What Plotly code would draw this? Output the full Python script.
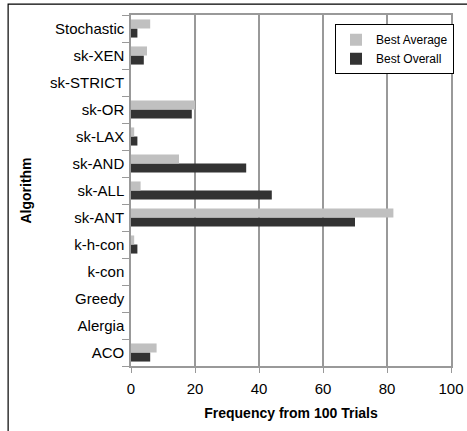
import plotly.graph_objects as go

categories = ["ACO", "Alergia", "Greedy", "k-con", "k-h-con", "sk-ANT", "sk-ALL",
              "sk-AND", "sk-LAX", "sk-OR", "sk-STRICT", "sk-XEN", "Stochastic"]
best_average = [8, 0, 0, 0, 1, 82, 3, 15, 1, 20, 0, 5, 6]
best_overall = [6, 0, 0, 0, 2, 70, 44, 36, 2, 19, 0, 4, 2]
x_ticks = [0, 20, 40, 60, 80, 100]

font = "Liberation Sans"

fig = go.Figure()
fig.add_trace(go.Bar(y=categories, x=best_overall, orientation="h", name="Best Overall",
                     marker=dict(color="#333333", line=dict(width=0))))
fig.add_trace(go.Bar(y=categories, x=best_average, orientation="h", name="Best Average",
                     marker=dict(color="#C0C0C0", line=dict(width=0))))

fig.update_layout(
    width=467, height=431,
    margin=dict(l=131, r=16, t=15, b=65, autoexpand=False),
    paper_bgcolor="white", plot_bgcolor="white",
    barmode="group", bargap=0.33, bargroupgap=0,
    font=dict(family=font, size=12, color="black"),
    legend=dict(x=0.6375, y=0.974, xanchor="left", yanchor="top",
                traceorder="reversed", bgcolor="white",
                bordercolor="black", borderwidth=1,
                font=dict(size=12), itemwidth=30, tracegroupgap=0),
    showlegend=True,
)
fig.update_xaxes(
    range=[0, 100], tickvals=x_ticks, ticktext=[str(v) for v in x_ticks],
    showgrid=True, gridcolor="#999999", gridwidth=1.5,
    showline=True, linecolor="#999999", linewidth=1.5, mirror=True,
    ticks="outside", ticklen=5, tickcolor="#999999", ticklabelstandoff=3,
    tickfont=dict(size=15), zeroline=False, automargin=False,
    title=dict(text="<b>Frequency from 100 Trials</b>", font=dict(size=14), standoff=12),
)
fig.update_yaxes(
    categoryorder="array", categoryarray=categories,
    showline=True, linecolor="#999999", linewidth=1.5, mirror=True,
    ticks="outside", ticklen=7, tickcolor="#999999", tickson="boundaries",
    ticklabelstandoff=2,
    tickfont=dict(size=15), showgrid=False, automargin=False,
    title=dict(text="<b>Algorithm</b>", font=dict(size=14), standoff=15),
)
fig.add_shape(type="rect", xref="paper", yref="paper",
              x0=-0.384, x1=1.3, y0=-0.4, y1=1.031,
              line=dict(color="black", width=1.2), layer="below")

fig.write_html("out.html", config={"displayModeBar": False},
               post_script="document.body.style.margin='0px';")
